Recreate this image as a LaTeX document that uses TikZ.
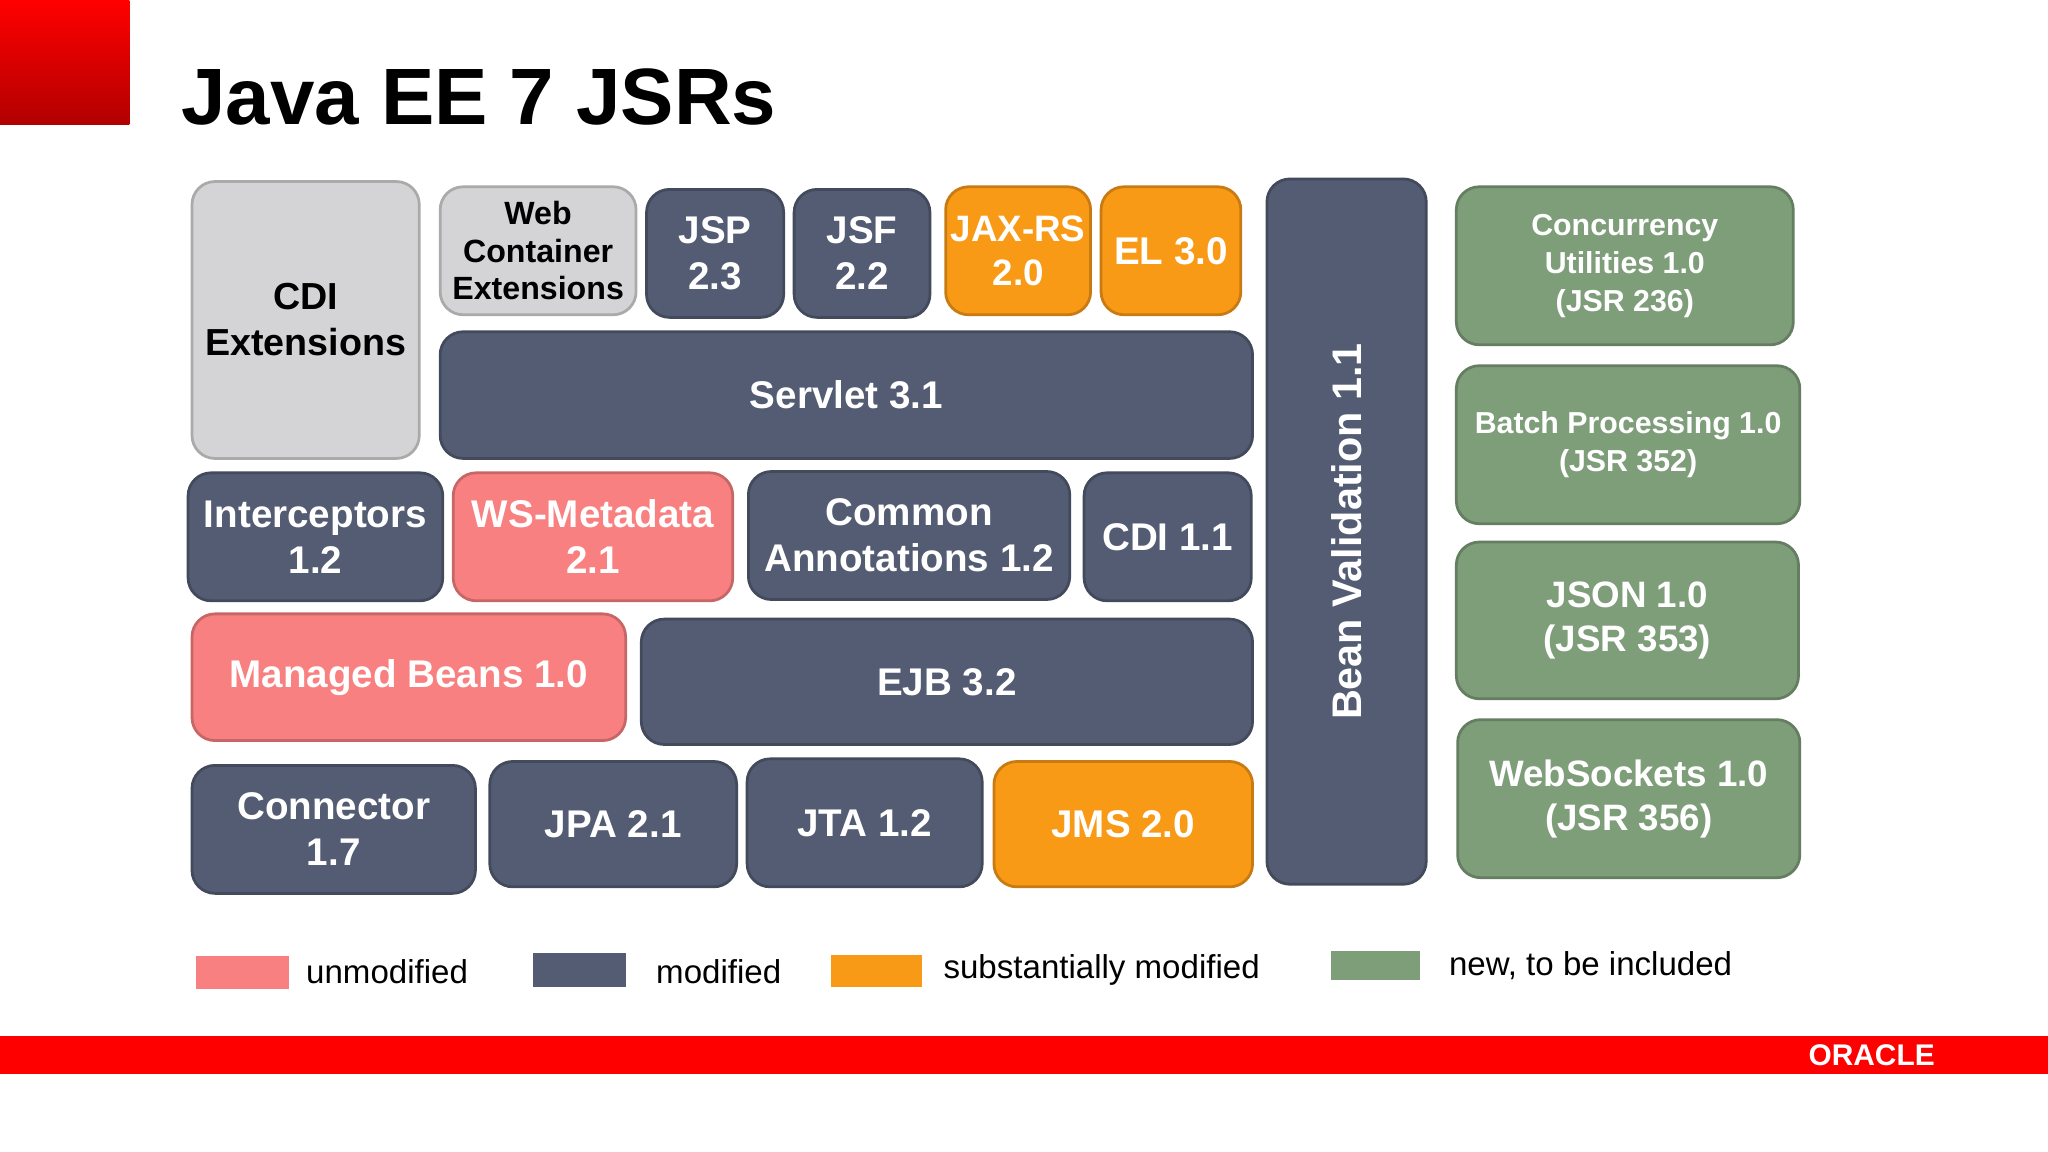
\documentclass[tikz,border=0pt]{standalone}
\usepackage{fontspec}
\setmainfont{Liberation Sans}
\definecolor{dk}{HTML}{535C73}
\definecolor{pk}{HTML}{F98080}
\definecolor{orn}{HTML}{F99A16}
\definecolor{gn}{HTML}{7E9E7A}
\definecolor{gy}{HTML}{D4D4D6}
\definecolor{rd}{HTML}{FF0000}
\begin{document}
\begin{tikzpicture}[x=0.01cm,y=-0.01cm,
  blk/.style={draw=#1!80!black,fill=#1,rounded corners=5pt,line width=0.6pt},
  wt/.style={text=white,font=\bfseries\fontsize{8.4}{10}\selectfont,align=center},
  bt/.style={text=black,font=\bfseries\fontsize{7.8}{9}\selectfont,align=center},
  gt/.style={text=white,font=\bfseries\fontsize{6.6}{8.3}\selectfont,align=center},
  lg/.style={font=\fontsize{7.2}{9}\selectfont,anchor=west}]
\useasboundingbox (0,0) rectangle (1568,882);
\fill[white] (0,0) rectangle (1568,882);
\shade[top color=rd,bottom color=rd!70!black] (0,0) rectangle (99,95);
\node[anchor=base west,font=\bfseries\fontsize{17.4}{20}\selectfont,inner sep=0] (title) at (138,95) {Java EE 7 JSRs};
\newcommand\bx[7]{\draw[blk=#5] (#1,#2) rectangle (#3,#4); \node[#6] (#7) at ({(#1+#3)/2},{(#2+#4)/2})}
\bx{147}{139}{321}{351}{gy}{bt,font=\bfseries\fontsize{8.2}{10}\selectfont}{cdie}{CDI\\Extensions};
\bx{337}{143}{487}{241}{gy}{bt,font=\bfseries\fontsize{7}{8.2}\selectfont}{wce}{Web\\Container\\Extensions};
\bx{495}{145}{600}{243}{dk}{wt}{jsp}{JSP\\2.3};
\bx{608}{145}{712}{243}{dk}{wt}{jsf}{JSF\\2.2};
\bx{724}{143}{835}{241}{orn}{wt,font=\bfseries\fontsize{8}{9.5}\selectfont}{jaxrs}{JAX-RS\\2.0};
\bx{843}{143}{950}{241}{orn}{wt}{el}{EL 3.0};
\bx{337}{254}{959}{351}{dk}{wt}{servlet}{Servlet 3.1};
\bx{970}{137}{1092}{677}{dk}{wt,rotate=90,font=\bfseries\fontsize{9}{10}\selectfont}{bv}{Bean Validation 1.1};
\bx{144}{362}{339}{460}{dk}{wt}{inter}{Interceptors\\1.2};
\bx{347}{362}{561}{460}{pk}{wt}{wsm}{WS-Metadata\\2.1};
\bx{573}{361}{819}{459}{dk}{wt}{ca}{Common\\Annotations 1.2};
\bx{830}{362}{958}{460}{dk}{wt}{cdi}{CDI 1.1};
\bx{147}{470}{479}{567}{pk}{wt}{mb}{Managed Beans 1.0};
\bx{491}{474}{959}{570}{dk}{wt}{ejb}{EJB 3.2};
\bx{147}{586}{364}{684}{dk}{wt}{conn}{Connector\\1.7};
\bx{375}{583}{564}{679}{dk}{wt}{jpa}{JPA 2.1};
\bx{572}{581}{752}{679}{dk}{wt}{jta}{JTA 1.2};
\bx{761}{583}{959}{679}{orn}{wt}{jms}{JMS 2.0};
\bx{1115}{143}{1373}{264}{gn}{gt}{conc}{Concurrency\\Utilities 1.0\\(JSR 236)};
\bx{1115}{280}{1378}{401}{gn}{gt}{batch}{Batch Processing 1.0\\(JSR 352)};
\bx{1115}{415}{1377}{535}{gn}{wt,font=\bfseries\fontsize{8}{9.5}\selectfont}{json}{JSON 1.0\\(JSR 353)};
\bx{1116}{551}{1378}{672}{gn}{wt,font=\bfseries\fontsize{8}{9.5}\selectfont}{ws}{WebSockets 1.0\\(JSR 356)};
\fill[pk] (150,732) rectangle (221,757); \node[lg] (l1) at (222,744) {unmodified};
\fill[dk] (408,730) rectangle (479,756); \node[lg] (l2) at (490,744) {modified};
\fill[orn] (636,731) rectangle (706,756); \node[lg] (l3) at (710,743) {substantially modified};
\fill[gn] (1019,728) rectangle (1087,750); \node[lg] (l4) at (1097,739) {new, to be included};
\fill[rd] (0,793) rectangle (1568,822);
\node[text=white,font=\bfseries\fontsize{6.5}{7}\selectfont] (oracle) at (1433,808) {ORACLE};
\end{tikzpicture}
\end{document}
